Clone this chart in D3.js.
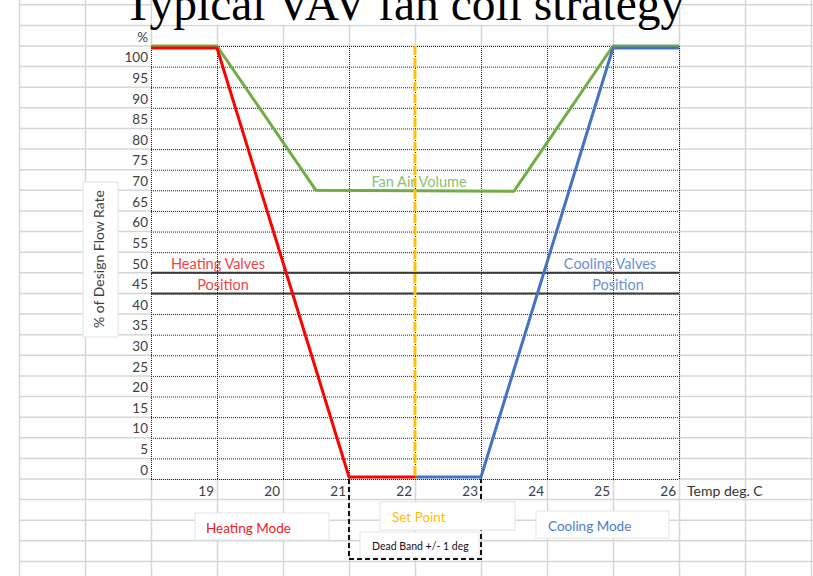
<!DOCTYPE html>
<html>
<head>
<meta charset="utf-8">
<script src="https://cdn.jsdelivr.net/npm/d3@7"></script>
<style>
  body { margin: 0; background: #fff; }
  svg { display: block; }
  .cell { font-family: Lato, "Open Sans", sans-serif; font-size: 13.5px; fill: #404040; }
</style>
</head>
<body>
<div id="chart"></div>
<script>
// temperature (deg C) and % of design flow values
const tempTicks = [19, 20, 21, 22, 23, 24, 25, 26];
const pctTicks = [0, 5, 10, 15, 20, 25, 30, 35, 40, 45, 50, 55, 60, 65, 70, 75, 80, 85, 90, 95, 100];

const heatTemp = [18, 19, 21, 22];
const heatPct = [104.5, 104.5, 0.5, 0.5];

const fanTemp = [18, 19, 20.5, 23.5, 25, 26];
const fanPct = [105, 105, 70, 69.8, 105, 105];

const coolTemp = [22, 23, 25, 26];
const coolPct = [0.5, 0.5, 104.5, 104.5];

const setPoint = 22;
const deadBand = [21, 23];
const valveBand = [45, 50];

const colors = {
  heat: "#FF0000",
  fan: "#70AD47",
  cool: "#4472C4",
  setPoint: "#FFC000"
};

const W = 813, H = 576;

const svg = d3.select("#chart").append("svg")
  .attr("width", W)
  .attr("height", H);

const x = d3.scaleLinear().domain([18, 26]).range([151, 679]);
const y = d3.scaleLinear().domain([0, 105]).range([479, 46]);

// spreadsheet cell grid behind everything
const sheet = svg.append("g").attr("class", "sheet");
sheet.selectAll(".col")
  .data(d3.range(16, 29))
  .enter().append("line")
  .attr("x1", d => x(d) + 0.5).attr("x2", d => x(d) + 0.5)
  .attr("y1", 0).attr("y2", H)
  .style("stroke", "#d6d6d6").style("stroke-width", 1.5);
sheet.selectAll(".row")
  .data(d3.range(-20, 116, 5))
  .enter().append("line")
  .attr("x1", x(16)).attr("x2", W)
  .attr("y1", d => y(d)).attr("y2", d => y(d))
  .style("stroke", "#d6d6d6").style("stroke-width", 1.5);

// title text box (cut off at top of the screenshot)
svg.append("rect")
  .attr("x", x(18) + 1.5).attr("y", 0)
  .attr("width", x(26) - x(18) - 2.5).attr("height", y(110) - 1)
  .style("fill", "#fff");
svg.append("text")
  .attr("x", 404).attr("y", 20)
  .attr("text-anchor", "middle")
  .style("font-family", "'Liberation Serif', 'Times New Roman', serif")
  .style("font-size", "47.5px")
  .style("fill", "#000")
  .text("Typical VAV fan coil strategy");

// plot area
svg.append("rect")
  .attr("x", x(18)).attr("y", y(105))
  .attr("width", x(26) - x(18)).attr("height", y(0) - y(105))
  .style("fill", "#fff");

const plot = svg.append("g");

plot.append("g")
  .attr("class", "grid")
  .attr("transform", `translate(${x(18)},0)`)
  .call(d3.axisRight(y).tickValues(d3.range(0, 106, 5)).tickSize(x(26) - x(18)).tickFormat(""))
  .call(g => g.select(".domain").remove())
  .selectAll("line")
  .style("stroke", "#222").style("stroke-dasharray", "1,1");

plot.append("g")
  .attr("class", "grid")
  .attr("transform", `translate(0,${y(105)})`)
  .call(d3.axisBottom(x).tickValues(d3.range(18, 27)).tickSize(y(0) - y(105)).tickFormat(""))
  .call(g => g.select(".domain").remove())
  .selectAll("line")
  .style("stroke", "#222").style("stroke-dasharray", "1,1");

plot.selectAll(".band")
  .data(valveBand)
  .enter().append("line")
  .attr("x1", x(18)).attr("x2", x(26))
  .attr("y1", d => y(d)).attr("y2", d => y(d))
  .style("stroke", "#3a3a3a").style("stroke-width", 2);

// in-plot labels
const inPlot = [
  { t: "Heating Valves", v: 52.5, c: 218, color: "#f04545" },
  { t: "Position", v: 47.5, c: 223, color: "#f04545" },
  { t: "Cooling Valves", v: 52.5, c: 610, color: "#6a8fd6" },
  { t: "Position", v: 47.5, c: 618, color: "#6a8fd6" },
  { t: "Fan Air Volume", v: 72.5, c: 419, color: "#8dbf6e" }
];
plot.selectAll(".lbl")
  .data(inPlot)
  .enter().append("text")
  .attr("class", "cell")
  .attr("x", d => d.c)
  .attr("y", d => y(d.v) + 1)
  .attr("text-anchor", "middle")
  .attr("dominant-baseline", "central")
  .style("font-size", "14.5px")
  .style("fill", d => d.color)
  .text(d => d.t);

const line = d3.line().x(d => x(d[0])).y(d => y(d[1]));

const series = [
  { t: fanTemp, p: fanPct, color: colors.fan },
  { t: heatTemp, p: heatPct, color: colors.heat },
  { t: coolTemp, p: coolPct, color: colors.cool }
];
plot.selectAll(".series")
  .data(series)
  .enter().append("path")
  .attr("d", d => line(d.t.map((v, i) => [v, d.p[i]])))
  .style("fill", "none")
  .style("stroke", d => d.color)
  .style("stroke-width", 3)
  .style("stroke-linejoin", "round");

plot.append("line")
  .attr("x1", x(setPoint)).attr("x2", x(setPoint))
  .attr("y1", y(105)).attr("y2", y(0))
  .style("stroke", colors.setPoint)
  .style("stroke-width", 3)
  .style("stroke-dasharray", "9,3");

// axis labels as sheet cells
svg.append("g").selectAll("text")
  .data(pctTicks)
  .enter().append("text")
  .attr("class", "cell")
  .attr("x", x(18) - 3)
  .attr("y", d => y(d + 2.5) + 1)
  .attr("text-anchor", "end")
  .attr("dominant-baseline", "central")
  .text(d => d);

svg.append("text")
  .attr("class", "cell")
  .attr("x", x(18) - 3).attr("y", y(107.5) + 1.5)
  .attr("text-anchor", "end")
  .attr("dominant-baseline", "central")
  .text("%");

svg.append("g").selectAll("text")
  .data(tempTicks)
  .enter().append("text")
  .attr("class", "cell")
  .attr("x", d => x(d) - 3)
  .attr("y", y(-2.5) + 1.5)
  .attr("text-anchor", "end")
  .attr("dominant-baseline", "central")
  .text(d => d);

svg.append("text")
  .attr("class", "cell")
  .attr("x", x(26) + 8).attr("y", y(-2.5) + 1.5)
  .attr("dominant-baseline", "central")
  .style("font-size", "14px")
  .style("fill", "#333")
  .text("Temp deg. C");

// y axis title box
svg.append("rect")
  .attr("x", 83).attr("y", 182)
  .attr("width", 35).attr("height", 155)
  .style("fill", "#fff").style("stroke", "#e2e2e2");
svg.append("text")
  .attr("class", "cell")
  .attr("transform", "translate(98,259) rotate(-90)")
  .attr("text-anchor", "middle")
  .attr("dominant-baseline", "central")
  .style("font-size", "14px")
  .style("fill", "#404040")
  .text("% of Design Flow Rate");

// dead band outline below the axis
svg.append("path")
  .attr("d", `M${x(deadBand[0])},${y(0)}V559H${x(deadBand[1])}V${y(0)}`)
  .style("fill", "none")
  .style("stroke", "#111")
  .style("stroke-width", 2)
  .style("stroke-dasharray", "5,3");

// text boxes under the chart
const boxes = [
  { t: "Heating Mode", bx: 195, by: 513, bw: 134, bh: 27, tx: 206, color: "#f02020", size: 13.5 },
  { t: "Set Point", bx: 380, by: 502, bw: 135, bh: 28, tx: 392, color: "#FFC000", size: 13.5 },
  { t: "Dead Band +/- 1 deg", bx: 360, by: 532, bw: 119, bh: 25, tx: 372, color: "#111", size: 10.5 },
  { t: "Cooling Mode", bx: 536, by: 511, bw: 133, bh: 27, tx: 548, color: "#4f7bd0", size: 13.5 }
];
const bg = svg.append("g").selectAll("g")
  .data(boxes)
  .enter().append("g");
bg.append("rect")
  .attr("x", d => d.bx).attr("y", d => d.by)
  .attr("width", d => d.bw).attr("height", d => d.bh)
  .style("fill", "#fff").style("stroke", "#e4e4e4");
bg.append("text")
  .attr("class", "cell")
  .attr("x", d => d.tx)
  .attr("y", d => d.by + d.bh / 2 + 1)
  .attr("dominant-baseline", "central")
  .style("font-size", d => d.size + "px")
  .style("fill", d => d.color)
  .text(d => d.t);
</script>
</body>
</html>
